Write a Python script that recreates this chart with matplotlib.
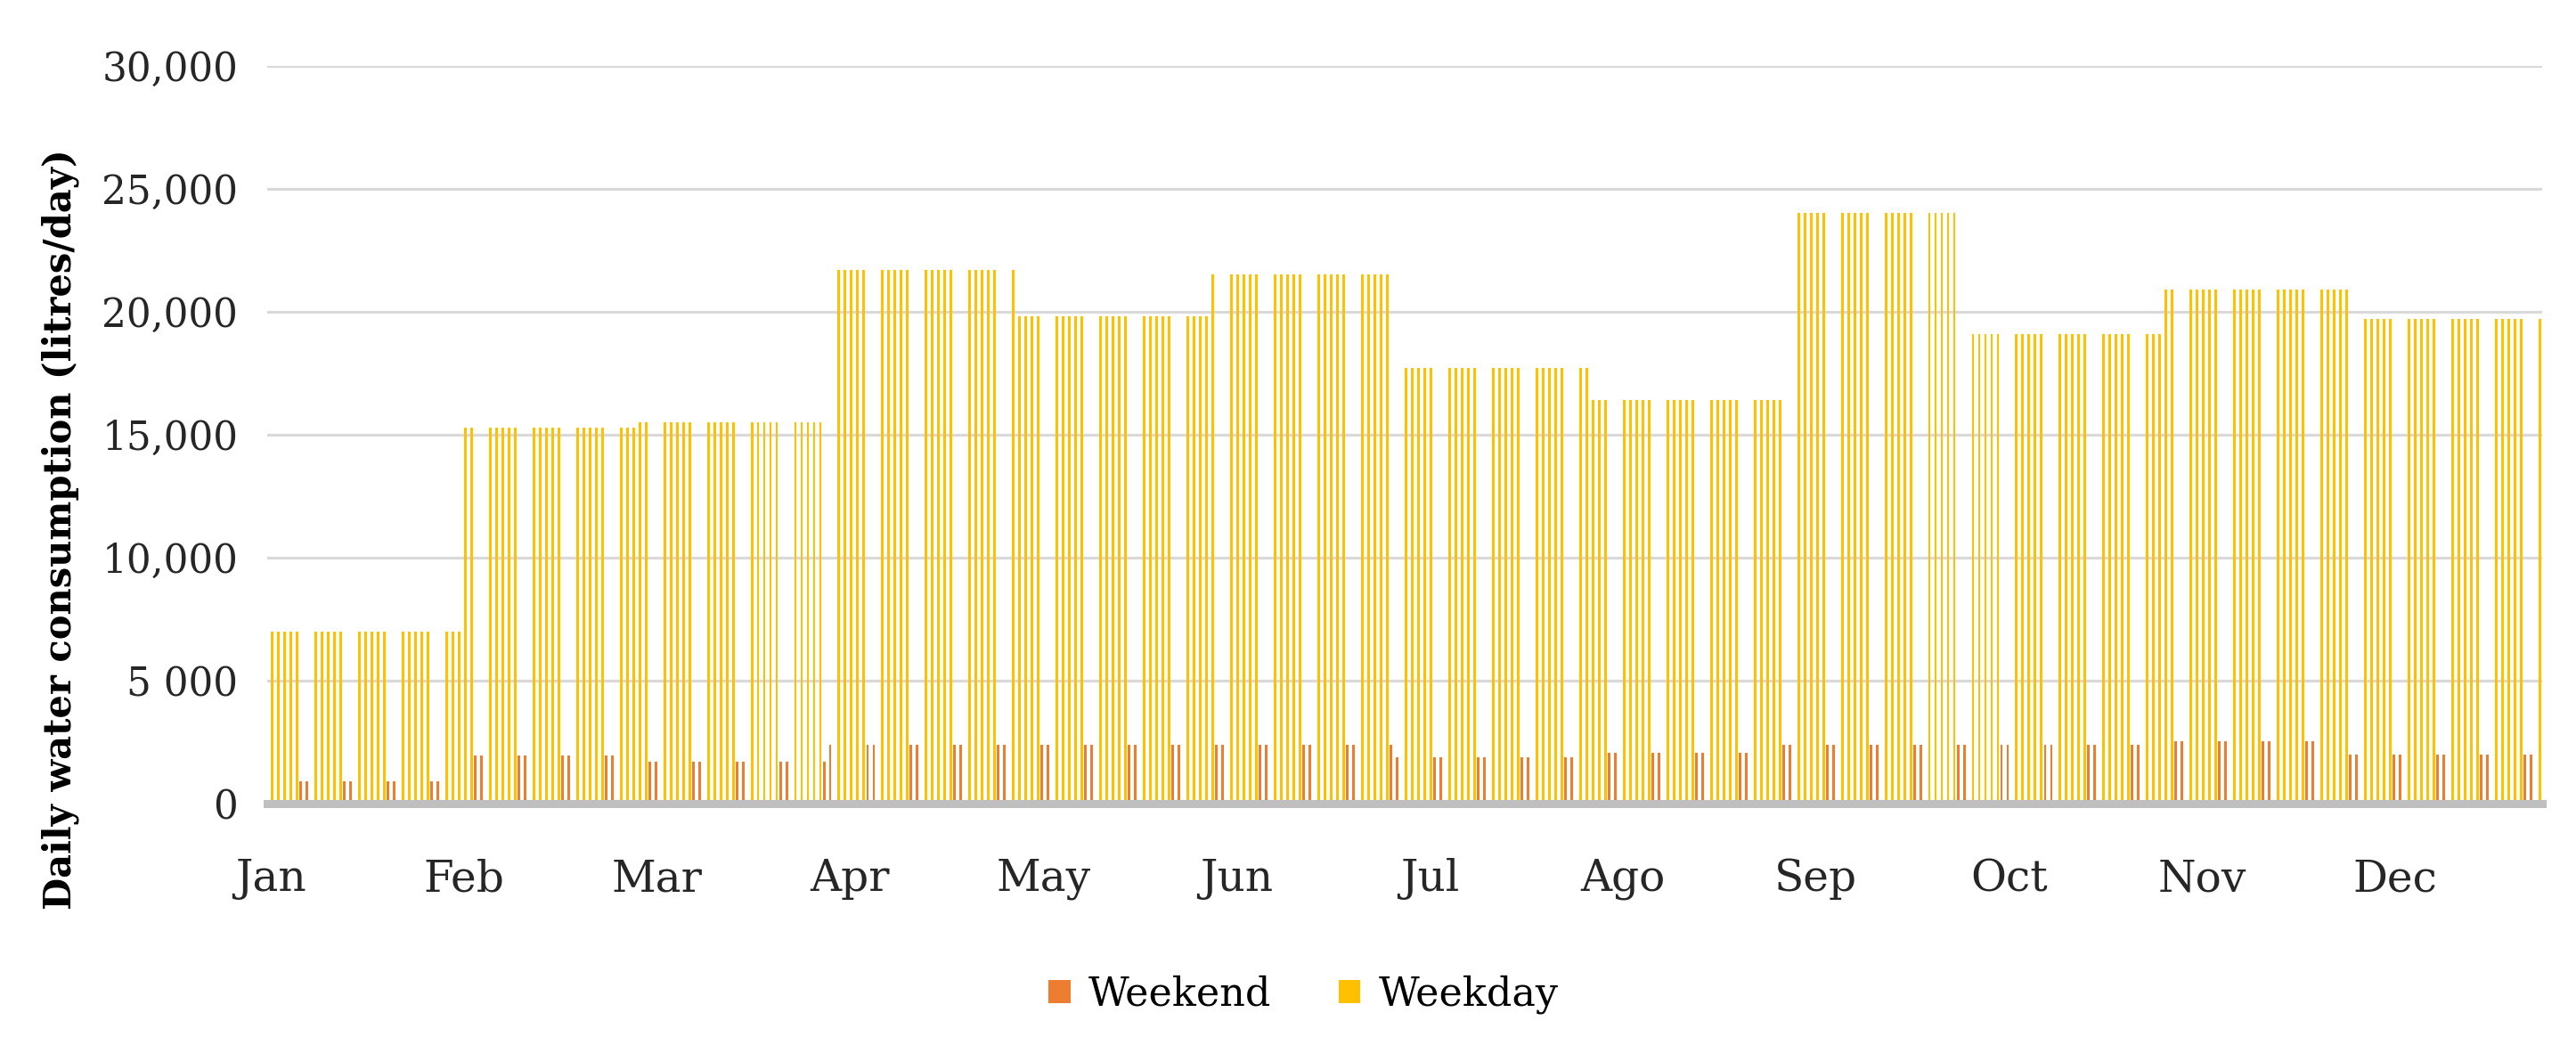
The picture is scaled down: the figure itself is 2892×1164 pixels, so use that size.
import matplotlib.pyplot as plt
import numpy as np
import pandas as pd

plt.rcParams["font.family"] = "serif"
plt.rcParams["font.serif"] = ["DejaVu Serif"]

# monthly levels (litres/day)
months = ['Jan', 'Feb', 'Mar', 'Apr', 'May', 'Jun', 'Jul', 'Ago', 'Sep', 'Oct', 'Nov', 'Dec']
weekday_lvl = [7000, 15300, 15500, 21700, 19800, 21500, 17700, 16400, 24000, 19100, 20900, 19700]
weekend_lvl = [900, 1950, 1700, 2400, 2400, 2400, 1900, 2050, 2400, 2400, 2550, 2000]
yticks = [0, 5000, 10000, 15000, 20000, 25000, 30000]
ytick_labels = ['0', '5 000', '10,000', '15,000', '20,000', '25,000', '30,000']

days = pd.date_range('2018-01-01', '2018-12-31', freq='D')
is_weekend = days.dayofweek >= 5
m = days.month - 1
weekday = np.where(~is_weekend, np.array(weekday_lvl)[m], 0)
weekend = np.where(is_weekend, np.array(weekend_lvl)[m], 0)
x = np.arange(len(days))

fig = plt.figure(figsize=(28.92, 11.64), dpi=100)
ax = fig.add_axes([0.1039, 0.2251, 0.8828, 0.7115])

w = 0.42
ax.bar(x - w / 2, weekend, width=w, color='#ED7D31', label='Weekend', zorder=3)
ax.bar(x + w / 2, weekday, width=w, color='#FFC000', label='Weekday', zorder=3)

ax.set_xlim(-0.5, len(days) - 0.5)
ax.set_ylim(0, 30000)
ax.set_yticks(yticks)
ax.set_yticklabels(ytick_labels)
ax.set_xticks(x[::31])
ax.set_xticklabels(months)
ax.yaxis.grid(True, color='#D9D9D9', linewidth=2.3, zorder=0)
ax.set_axisbelow(True)
for s in ['top', 'right', 'left']:
    ax.spines[s].set_visible(False)
ax.spines['bottom'].set_color('#BFBFBF')
ax.spines['bottom'].set_linewidth(6.5)
ax.spines['bottom'].set_zorder(4)
ax.tick_params(axis='both', length=0, colors='#262626')
ax.tick_params(axis='y', pad=24, labelsize=31.5)
ax.tick_params(axis='x', pad=44, labelsize=35)

ax.set_ylabel('Daily water consumption (litres/day)', fontsize=30, fontweight='bold', labelpad=22)
ax.yaxis.set_label_coords(-0.083, 0.372)

fig.legend(loc='center', bbox_to_anchor=(0.506, 0.041), ncol=2, frameon=False,
           fontsize=32, handlelength=0.55, handleheight=0.55, handletextpad=0.45, columnspacing=1.7)

plt.savefig('out.png', dpi=100)
